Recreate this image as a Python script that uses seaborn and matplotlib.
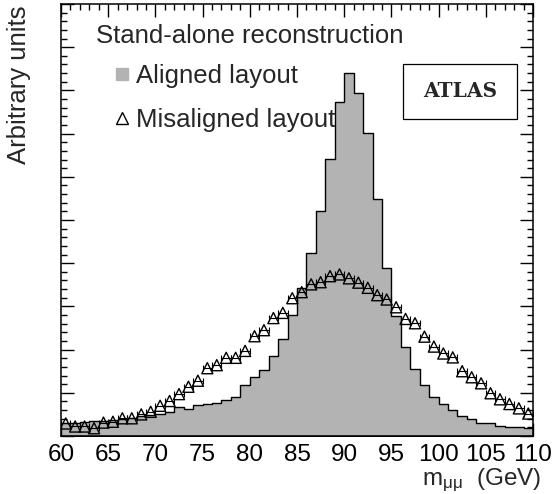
import numpy as np
import pandas as pd
import matplotlib
matplotlib.use("Agg")
import matplotlib.pyplot as plt
from matplotlib.lines import Line2D
from matplotlib.patches import Rectangle
from matplotlib.ticker import MultipleLocator
import seaborn as sns

# ---- data ----
bin_edges = list(range(60, 111))
aligned_counts = [0.30, 0.31, 0.32, 0.34, 0.35, 0.37, 0.39, 0.42, 0.46, 0.49,
                  0.52, 0.56, 0.66, 0.62, 0.72, 0.74, 0.77, 0.83, 0.91, 1.17,
                  1.37, 1.53, 1.85, 2.24, 2.80, 3.42, 4.24, 5.21, 6.41, 7.72,
                  8.40, 7.93, 7.01, 5.49, 3.89, 2.78, 2.05, 1.56, 1.19, 0.90,
                  0.73, 0.60, 0.46, 0.39, 0.31, 0.29, 0.23, 0.21, 0.20, 0.19]
misaligned_x = [60.5 + i for i in range(50)]
misaligned_y = [0.29, 0.22, 0.22, 0.18, 0.31, 0.33, 0.41, 0.41, 0.50, 0.56,
                0.70, 0.81, 0.97, 1.14, 1.28, 1.57, 1.64, 1.81, 1.81, 1.97,
                2.31, 2.45, 2.73, 2.85, 3.19, 3.33, 3.51, 3.56, 3.70, 3.74,
                3.65, 3.55, 3.43, 3.26, 3.16, 2.98, 2.71, 2.61, 2.30, 2.07,
                1.91, 1.82, 1.50, 1.36, 1.22, 0.99, 0.85, 0.74, 0.64, 0.52]
x_err = 0.5
x_ticks = [60, 65, 70, 75, 80, 85, 90, 95, 100, 105, 110]
legend_labels = ["Aligned layout", "Misaligned layout"]

FS = 18.5

sns.set_style("ticks")
plt.rcParams['font.family'] = ['Liberation Sans', 'DejaVu Sans']
plt.rcParams['mathtext.fontset'] = 'custom'
plt.rcParams['mathtext.rm'] = 'Liberation Sans'
plt.rcParams['mathtext.it'] = 'Liberation Sans:italic'

fig = plt.figure(figsize=(5.6, 4.94), dpi=100)
ax = fig.add_axes([61/560, 1 - 436/494, (533-61)/560, (436-4)/494])

centers = [(a + b) / 2 for a, b in zip(bin_edges[:-1], bin_edges[1:])]
df_h = pd.DataFrame({"m": centers, "w": aligned_counts})
sns.histplot(data=df_h, x="m", weights="w", bins=bin_edges, element="step",
             fill=True, color="#b3b3b3", alpha=1.0, edgecolor="black",
             linewidth=1.0, ax=ax, zorder=2)

df_p = pd.DataFrame({"m": misaligned_x, "y": misaligned_y})
ax.errorbar(df_p["m"], df_p["y"], xerr=x_err, fmt="none", ecolor="black",
            elinewidth=0.8, capsize=2, capthick=0.8, zorder=3)
sns.scatterplot(data=df_p, x="m", y="y", marker="^", s=64, facecolor="none",
                edgecolor="black", linewidth=1.0, ax=ax, zorder=4)

ax.set_xlim(60, 110)
ax.set_ylim(0, 10)
ax.set_xticks(x_ticks)
ax.set_xticklabels([str(t) for t in x_ticks], fontsize=17.5)
ax.xaxis.set_minor_locator(MultipleLocator(1))
ax.yaxis.set_major_locator(MultipleLocator(1))
ax.yaxis.set_minor_locator(MultipleLocator(0.2))
ax.set_yticklabels([])
ax.tick_params(which="both", direction="in", top=True, right=True, width=1, colors="black")
ax.tick_params(which="major", length=9.5, pad=6)
ax.tick_params(which="minor", length=4.5)
for s in ax.spines.values():
    s.set_linewidth(1.1)
    s.set_color("black")

ax.set_xlabel(r"m$_{\mathrm{μμ}}$  (GeV)", fontsize=17.5, loc="right")
ax.xaxis.label.set_va("baseline")
ax.xaxis.set_label_coords(1.0 + 8/472, (436 - 485) / 432)
ax.set_ylabel("Arbitrary units", fontsize=FS, loc="top")
ax.yaxis.set_label_coords((31 - 61) / 472, 1.0 - 1/432)

ax.text(0.074, 0.926, "Stand-alone reconstruction", transform=ax.transAxes,
        fontsize=FS, ha="left", va="center", zorder=5)
handles = [Line2D([], [], marker="s", linestyle="none", color="#b3b3b3", markersize=8.5),
           Line2D([], [], marker="^", linestyle="none", mfc="none", mec="black",
                  markersize=8.5, mew=1.0)]
leg = ax.legend(handles, legend_labels, loc="upper left",
                bbox_to_anchor=(0.107, 0.862), frameon=False, fontsize=FS,
                handlelength=0.8, handletextpad=0.15, labelspacing=0.80,
                borderpad=0.0, borderaxespad=0.0)
leg.set_zorder(5)

ax.add_patch(Rectangle((0.7246, 0.7338), 0.966 - 0.7246, 0.861 - 0.7338,
                       transform=ax.transAxes, fc="white", ec="black", lw=0.9,
                       zorder=6))
ax.text(0.845, 0.7975, "ATLAS", transform=ax.transAxes, fontsize=14.5,
        family="DejaVu Serif", weight="bold", ha="center", va="center",
        zorder=7)

fig.savefig("out.png", dpi=100)
